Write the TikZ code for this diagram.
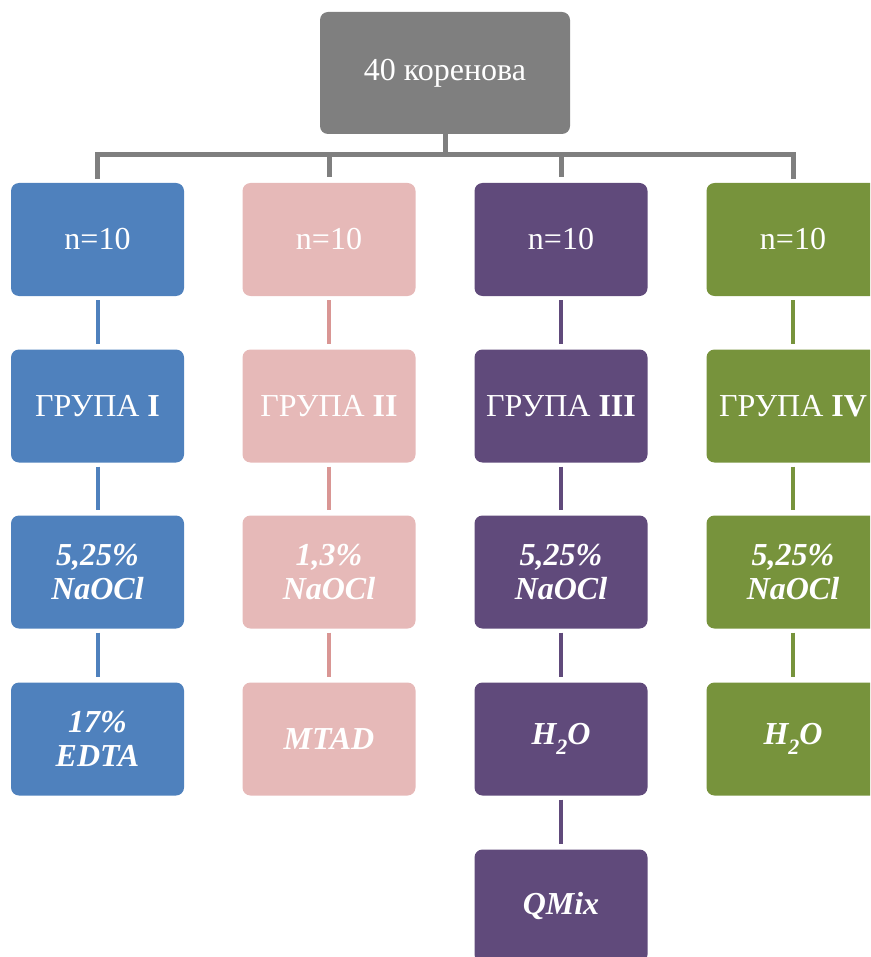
\documentclass[tikz,border=0pt]{standalone}
\usepackage{fontspec}
\setmainfont{Liberation Serif}
\definecolor{cblue}{HTML}{4F81BD}
\definecolor{cpink}{HTML}{E6B9B8}
\definecolor{cpinkl}{HTML}{D99694}
\definecolor{cpurp}{HTML}{604A7B}
\definecolor{cgreen}{HTML}{77933C}
\definecolor{cgray}{HTML}{7F7F7F}
\newcommand{\bi}[1]{\textbf{\textit{#1}}}
\newcommand{\subtwo}{\raisebox{-0.3em}{\fontsize{22}{22}\selectfont 2}}
\begin{document}
\begin{tikzpicture}[x=1pt,y=-1pt,
  box/.style={rounded corners=8pt, minimum width=173pt, minimum height=113pt,
    inner sep=0pt, text=white, align=center, font=\fontsize{32}{34}\selectfont},
  gl/.style={draw=cgray, line width=5pt},
  cl/.style={line width=4pt}]
\useasboundingbox (0,0) rectangle (870,957);
\clip (0,0) rectangle (870,957);
% top
\node[box, fill=cgray, minimum width=250pt, minimum height=122pt] (top) at (445,73) {40 коренова};
% column 1
\node[box, fill=cblue] (a1) at (97.5,239.5) {n=10};
\node[box, fill=cblue] (a2) at (97.5,406) {ГРУПА \textbf{I}};
\node[box, fill=cblue] (a3) at (97.5,572) {\bi{5,25\%}\\\bi{NaOCl}};
\node[box, fill=cblue] (a4) at (97.5,739) {\bi{17\%}\\\bi{EDTA}};
% column 2
\node[box, fill=cpink] (b1) at (329,239.5) {n=10};
\node[box, fill=cpink] (b2) at (329,406) {ГРУПА \textbf{II}};
\node[box, fill=cpink] (b3) at (329,572) {\bi{1,3\%}\\\bi{NaOCl}};
\node[box, fill=cpink] (b4) at (329,739) {\bi{MTAD}};
% column 3
\node[box, fill=cpurp] (c1) at (561,239.5) {n=10};
\node[box, fill=cpurp] (c2) at (561,406) {ГРУПА \textbf{III}};
\node[box, fill=cpurp] (c3) at (561,572) {\bi{5,25\%}\\\bi{NaOCl}};
\node[box, fill=cpurp] (c4) at (561,739) {\bi{H\subtwo O}};
\node[box, fill=cpurp] (c5) at (561,906) {\bi{QMix}};
% column 4
\node[box, fill=cgreen] (d1) at (793,239.5) {n=10};
\node[box, fill=cgreen] (d2) at (793,406) {ГРУПА \textbf{IV}};
\node[box, fill=cgreen] (d3) at (793,572) {\bi{5,25\%}\\\bi{NaOCl}};
\node[box, fill=cgreen] (d4) at (793,739) {\bi{H\subtwo O}};
% gray tree connectors
\coordinate (bar) at (445,155);
\draw[gl] (top.south) -- (bar);
\draw[gl, line cap=rect] (bar) -| ([yshift=6pt]a1.north);
\draw[gl] (bar) -| ([yshift=6pt]b1.north);
\draw[gl] (bar) -| ([yshift=6pt]c1.north);
\draw[gl, line cap=rect] (bar) -| ([yshift=6pt]d1.north);
% colored connectors
\foreach \p/\q in {a1/a2,a2/a3,a3/a4}
  \draw[cl, cblue] ([yshift=-4pt]\p.south) -- ([yshift=5pt]\q.north);
\foreach \p/\q in {b1/b2,b2/b3,b3/b4}
  \draw[cl, cpinkl] ([yshift=-4pt]\p.south) -- ([yshift=5pt]\q.north);
\foreach \p/\q in {c1/c2,c2/c3,c3/c4,c4/c5}
  \draw[cl, cpurp] ([yshift=-4pt]\p.south) -- ([yshift=5pt]\q.north);
\foreach \p/\q in {d1/d2,d2/d3,d3/d4}
  \draw[cl, cgreen] ([yshift=-4pt]\p.south) -- ([yshift=5pt]\q.north);
\end{tikzpicture}
\end{document}
